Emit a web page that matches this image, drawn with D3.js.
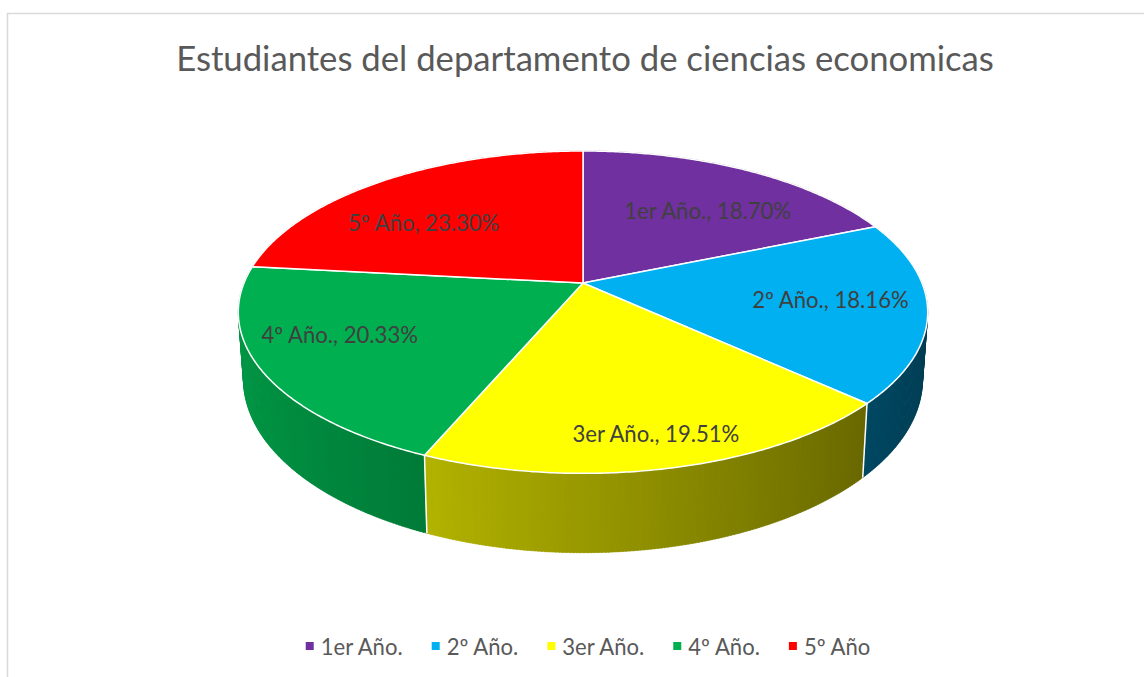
<!DOCTYPE html>
<html>
<head>
<meta charset="utf-8">
<script src="https://cdn.jsdelivr.net/npm/d3@7"></script>
<style>
  html, body { margin: 0; padding: 0; background: #fff; }
  svg { display: block; }
  text { font-family: Lato, "Open Sans", "DejaVu Sans", sans-serif; }
</style>
</head>
<body>
<svg id="chart" width="1144" height="677"></svg>
<script>
// ---------- data ----------
const categories = ["1er Año.", "2º Año.", "3er Año.", "4º Año.", "5º Año"];
const values = [18.70, 18.16, 19.51, 20.33, 23.30];
const colors = ["#7030a0", "#00b0f0", "#ffff00", "#00b050", "#ff0000"];
const titleText = "Estudiantes del departamento de ciencias economicas";

// ---------- layout ----------
const W = 1144, H = 677;
const CX = 583, CY = 283;          // pie apex on screen
const RX = 339, RY = 155.9;        // projected radii factors
const PERSP = 0.181;               // perspective strength
const DEPTH = 65;                  // thickness
const BOTTOM_SHRINK = 0.985;
const labelNudge = [[-2, 15], [-9, -4], [11, 19], [-8, -12], [-5, 18]];

const svg = d3.select("#chart");

// chart frame
svg.append("rect").attr("x", 7.5).attr("y", 13.5).attr("width", 1160).attr("height", 700)
  .attr("fill", "#fff").attr("stroke", "#d9d9d9").attr("stroke-width", 1.5);

const color = d3.scaleOrdinal().domain(categories).range(colors);
const pie = d3.pie().sort(null).value(d => d.value);
const arcs = pie(categories.map((c, i) => ({ name: c, value: values[i] })));

function proj(theta, r, bottom) {
  const u = r * Math.sin(theta), v = -r * Math.cos(theta);
  const den = 1 - PERSP * v;
  return [
    CX + RX * (bottom ? BOTTOM_SHRINK : 1) * u / den,
    CY + (RY * v + (bottom ? DEPTH : 0)) / den
  ];
}
function shade(theta) {
  return 0.6 - 0.26 * Math.sin(theta);
}
function darker(hex, f) {
  const c = d3.rgb(hex);
  return d3.rgb(c.r * f, c.g * f, c.b * f).formatHex();
}

const line = d3.line();
const gWalls = svg.append("g");
const gTops = svg.append("g");
const gLabels = svg.append("g");

// walls: thin angular strips, drawn back to front
const strips = [];
const STEP = Math.PI / 360;
arcs.forEach(a => {
  const base = color(a.data.name);
  for (let t = a.startAngle; t < a.endAngle - 1e-9; t += STEP) {
    const t2 = Math.min(t + STEP, a.endAngle);
    const t2o = Math.min(t2 + STEP * 0.6, a.endAngle);
    const tm = (t + t2) / 2;
    strips.push({
      v: -Math.cos(tm),
      fill: darker(base, shade(tm)),
      pts: [proj(t, 1, false), proj(t2o, 1, false), proj(t2o, 1, true), proj(t, 1, true)]
    });
  }
});
strips.sort((a, b) => a.v - b.v);
gWalls.selectAll("path.strip").data(strips).join("path")
  .attr("class", "strip")
  .attr("d", d => line(d.pts) + "Z")
  .attr("fill", d => d.fill)
  .attr("stroke", d => d.fill)
  .attr("stroke-width", 0.4);

// white separators on visible front walls
arcs.forEach(a => {
  const t = a.startAngle;
  if (-Math.cos(t) > -0.2) {
    gWalls.append("path")
      .attr("d", line([proj(t, 1, false), proj(t, 1, true)]))
      .attr("stroke", "#fff").attr("stroke-width", 1.5).attr("fill", "none");
  }
});

// top faces
gTops.selectAll("path.top").data(arcs).join("path")
  .attr("class", "top")
  .attr("d", a => {
    const pts = [[CX, CY]];
    const n = Math.max(2, Math.ceil((a.endAngle - a.startAngle) / (Math.PI / 360)));
    for (let i = 0; i <= n; i++) {
      const t = a.startAngle + (a.endAngle - a.startAngle) * i / n;
      pts.push(proj(t, 1, false));
    }
    return line(pts) + "Z";
  })
  .attr("fill", a => color(a.data.name))
  .attr("stroke", "#fff")
  .attr("stroke-width", 1.5)
  .attr("stroke-linejoin", "round");

// data labels
const fmt = d3.format(".2f");
const labels = gLabels.selectAll("text").data(arcs).join("text")
  .attr("text-anchor", "middle")
  .attr("dominant-baseline", "central")
  .attr("fill", "#404040")
  .text(a => `${a.data.name}, ${fmt(a.data.value)}%`)
  .each(function (a, i) {
    const mid = (a.startAngle + a.endAngle) / 2;
    const p = proj(mid, 0.75, false);
    d3.select(this).attr("x", p[0] + labelNudge[i][0]).attr("y", p[1] + labelNudge[i][1]);
  });
// fit label font size to the reference width of the first label (~167px)
labels.attr("font-size", 20);
const lw = labels.nodes()[0].getComputedTextLength();
labels.attr("font-size", 20 * 167 / lw);

// title
const title = svg.append("text")
  .attr("x", 585).attr("y", 71)
  .attr("text-anchor", "middle")
  .attr("fill", "#595959")
  .attr("font-size", 30)
  .text(titleText);
const tw = title.node().getComputedTextLength();
title.attr("font-size", 30 * 818 / tw);

// legend
const legend = svg.append("g");
const items = legend.selectAll("g").data(categories).join("g");
items.append("rect").attr("width", 8).attr("height", 8).attr("y", -4)
  .attr("fill", d => color(d));
const ltexts = items.append("text").attr("x", 15).attr("dominant-baseline", "central")
  .attr("fill", "#595959").attr("font-size", 20).text(d => d);
const w0 = ltexts.nodes()[0].getComputedTextLength();
ltexts.attr("font-size", 20 * 82 / w0);
let xpos = 0;
const positions = [];
ltexts.each(function () {
  positions.push(xpos);
  xpos += 15 + this.getComputedTextLength() + 29;
});
const totalW = xpos - 29;
const lx0 = 588 - totalW / 2;
items.attr("transform", (d, i) => `translate(${lx0 + positions[i]},646)`);
</script>
</body>
</html>
